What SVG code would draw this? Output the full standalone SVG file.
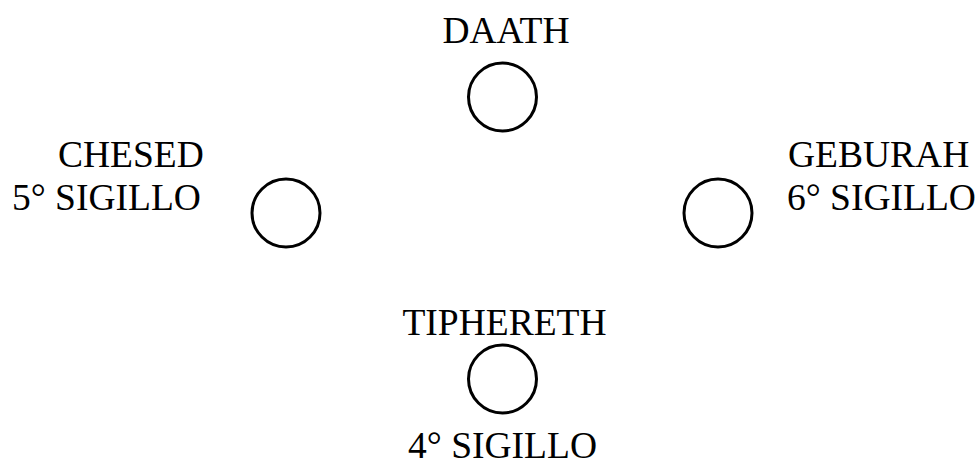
<svg xmlns="http://www.w3.org/2000/svg" width="978" height="463" viewBox="0 0 978 463">
<style>
.n{fill:none;stroke:#000;stroke-width:3}
text{font-family:'Liberation Serif','Times New Roman',serif;font-size:37.5px;fill:#000}
.m{text-anchor:middle}
</style>
<rect width="978" height="463" fill="#fff"/>
<g id="connectors"/>
<g id="daath">
<circle class="n" cx="502.5" cy="97" r="34"/>
<text class="m" x="506" y="43">DAATH</text>
</g>
<g id="chesed">
<circle class="n" cx="286" cy="213" r="34"/>
<text x="58" y="167">CHESED</text>
<text x="12" y="210">5° SIGILLO</text>
</g>
<g id="geburah">
<circle class="n" cx="718" cy="213" r="34"/>
<text x="788" y="167">GEBURAH</text>
<text x="787" y="210">6° SIGILLO</text>
</g>
<g id="tiphereth">
<circle class="n" cx="502.5" cy="379" r="34"/>
<text class="m" x="504.5" y="335">TIPHERETH</text>
<text class="m" x="502.5" y="458">4° SIGILLO</text>
</g>
</svg>
